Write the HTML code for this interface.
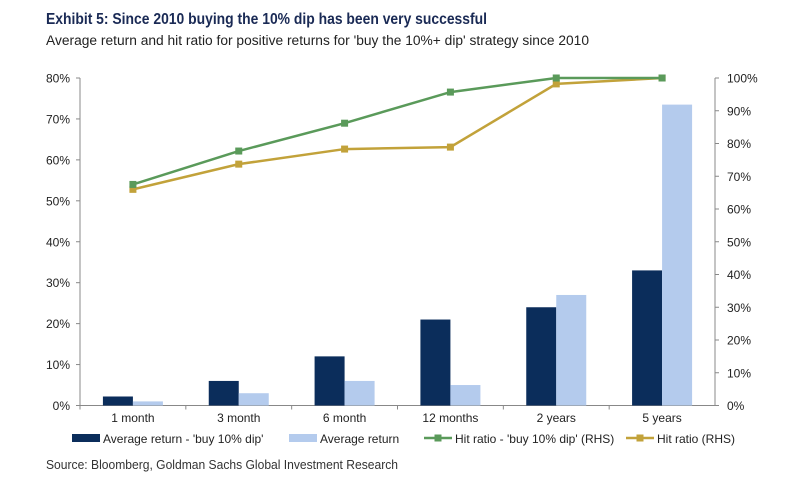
<!DOCTYPE html>
<html><head><meta charset="utf-8"><style>
body{margin:0;background:#fff;width:805px;height:491px;overflow:hidden;font-family:"Liberation Sans",sans-serif}
</style></head><body>
<svg width="805" height="491" id="c" font-family="Liberation Sans, sans-serif">
<text x="46" y="24" font-size="16" font-weight="bold" fill="#1a2a55" textLength="441" lengthAdjust="spacingAndGlyphs">Exhibit 5: Since 2010 buying the 10% dip has been very successful</text>
<text x="46" y="45" font-size="13.5" fill="#222" textLength="543" lengthAdjust="spacingAndGlyphs">Average return and hit ratio for positive returns for 'buy the 10%+ dip' strategy since 2010</text>
<text x="46" y="469" font-size="13" fill="#333" textLength="352" lengthAdjust="spacingAndGlyphs">Source: Bloomberg, Goldman Sachs Global Investment Research</text>
</svg>
<script>
const categories=["1 month","3 month","6 month","12 months","2 years","5 years"];
const avgDip=[2.2,6,12,21,24,33];
const avgRet=[1,3,6,5,27,73.5];
const hitDip=[67.5,77.7,86.2,95.7,100,100];
const hitAll=[66,73.7,78.3,78.9,98.2,100];
const leftTicks=[0,10,20,30,40,50,60,70,80];
const rightTicks=[0,10,20,30,40,50,60,70,80,90,100];
const NS="http://www.w3.org/2000/svg",svg=document.getElementById('c');
const X0=80,X1=715,Y0=405.5,Y1=78,cw=(X1-X0)/categories.length;
const yL=v=>Y0-(v/80)*(Y0-Y1), yR=v=>Y0-(v/100)*(Y0-Y1), xc=i=>X0+cw*(i+0.5);
function mk(t,a,p){const e=document.createElementNS(NS,t);for(const k in a)e.setAttribute(k,a[k]);(p||svg).appendChild(e);return e;}
leftTicks.forEach(v=>{const t=mk('text',{x:X0-10,y:yL(v)+4.5,'font-size':12,'text-anchor':'end',fill:'#222'});t.textContent=v+'%';


mk('line',{x1:X0-4,x2:X0,y1:yL(v),y2:yL(v),stroke:'#888'});});
rightTicks.forEach(v=>{const t=mk('text',{x:X1+12,y:yR(v)+4.5,'font-size':12,fill:'#222'});t.textContent=v+'%';


mk('line',{x1:X1,x2:X1+4,y1:yR(v),y2:yR(v),stroke:'#888'});});
mk('line',{x1:X0,x2:X0,y1:Y1,y2:Y0,stroke:'#888'});
mk('line',{x1:X1,x2:X1,y1:Y1,y2:Y0,stroke:'#888'});
mk('line',{x1:X0,x2:X1,y1:Y0,y2:Y0,stroke:'#888'});
categories.forEach((c,i)=>{mk('line',{x1:X0+cw*i,x2:X0+cw*i,y1:Y0,y2:Y0+4,stroke:'#888'});
const bw=30;
const b1=mk('rect',{x:xc(i)-bw,y:yL(avgDip[i]),width:bw,height:Y0-yL(avgDip[i]),fill:'#0b2d5b'});


const b2=mk('rect',{x:xc(i),y:yL(avgRet[i]),width:bw,height:Y0-yL(avgRet[i]),fill:'#b4cbed'});


const t=mk('text',{x:xc(i),y:422,'font-size':12,'text-anchor':'middle',fill:'#222'});t.textContent=c;

});
function line(vals,col,name){const l=mk('polyline',{points:vals.map((v,i)=>xc(i)+','+yR(v)).join(' '),fill:'none',stroke:col,'stroke-width':2.5});


vals.forEach((v,i)=>{const m=mk('rect',{x:xc(i)-3.5,y:yR(v)-3.5,width:7,height:7,fill:col});

});}
line(hitAll,'#c2a23a','line-hit-ratio');
line(hitDip,'#5a9a5a','line-hit-ratio-dip');
const leg=[[72,'bar','#0b2d5b',"Average return - 'buy  10% dip'"],[289,'bar','#b4cbed','Average return'],[424,'ln','#5a9a5a',"Hit ratio - 'buy 10% dip' (RHS)"],[626,'ln','#c2a23a','Hit ratio (RHS)']];
leg.forEach(([x,k,c,s])=>{const g=mk('g',{});


if(k=='bar')mk('rect',{x:x,y:434,width:28,height:8,fill:c},g);else{mk('line',{x1:x,x2:x+28,y1:438,y2:438,stroke:c,'stroke-width':2.5},g);mk('rect',{x:x+10.5,y:434.5,width:7,height:7,fill:c},g);}
const t=mk('text',{x:x+31,y:443,'font-size':12,fill:'#222'},g);t.textContent=s;});
</script>
</body></html>
